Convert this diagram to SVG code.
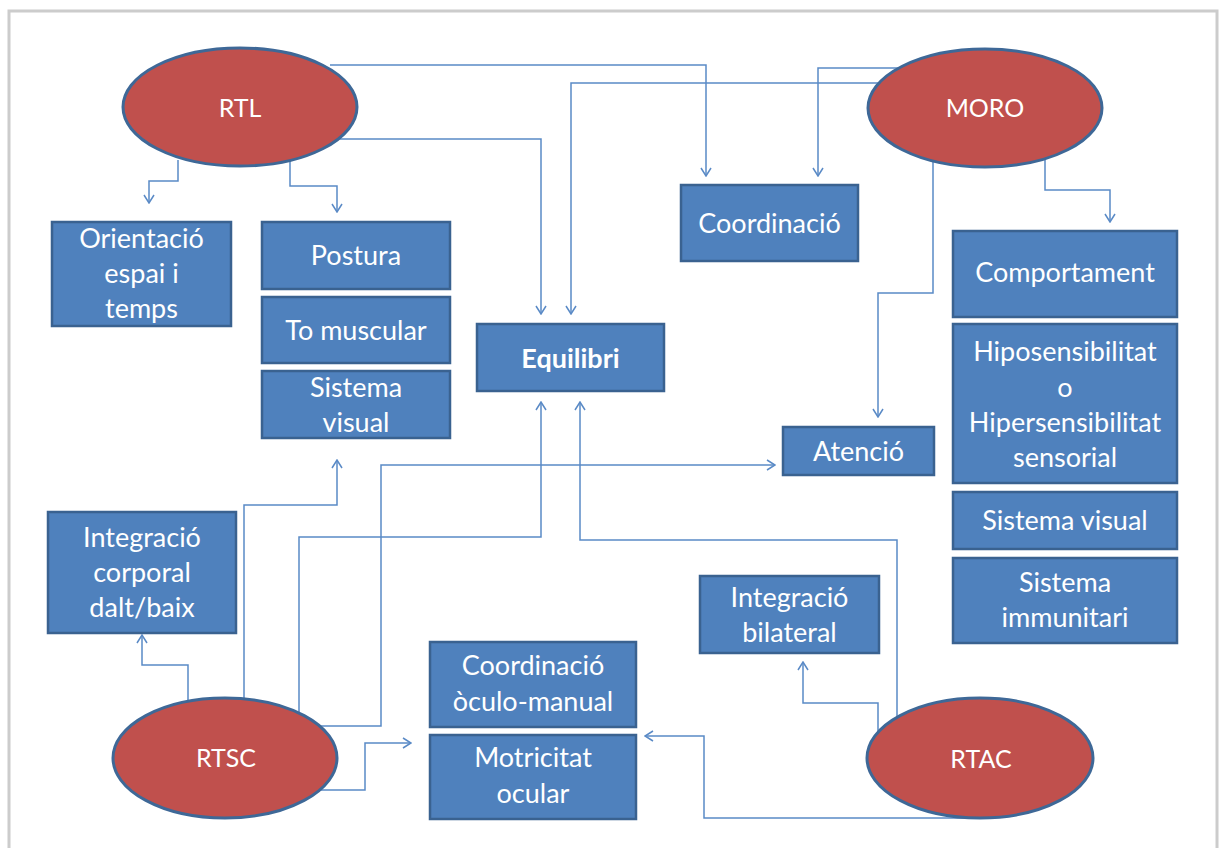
<svg xmlns="http://www.w3.org/2000/svg" width="1224" height="848" viewBox="0 0 1224 848">
  <defs>
    <style>
      .box { fill: #4F81BD; stroke: #3A6290; stroke-width: 2.5; }
      .oval { fill: #C0504D; stroke: #3E6897; stroke-width: 3; }
      .lbl { font-family: Lato, "Noto Sans", sans-serif; font-size: 27px; fill: #FFFFFF; text-anchor: middle; }
      .olbl { font-family: Lato, "Noto Sans", sans-serif; font-size: 25px; fill: #FFFFFF; text-anchor: middle; }
      .bold { font-weight: bold; }
      .wire { fill: none; stroke: #5A8AC6; stroke-width: 1.5; marker-end: url(#arrow); }
    </style>
    <marker id="arrow" viewBox="0 0 10 12" refX="9" refY="6" markerWidth="10" markerHeight="12" markerUnits="userSpaceOnUse" orient="auto">
      <path d="M1,1 L9,6 L1,11" fill="none" stroke="#5A8AC6" stroke-width="1.5"/>
    </marker>
  </defs>

  <rect x="0" y="0" width="1224" height="848" fill="#FFFFFF"/>
  <!-- page frame -->
  <rect x="9" y="11" width="1208" height="860" fill="none" stroke="#CCCCCC" stroke-width="3"/>

  <g id="connectors">
    <path class="wire" d="M178,160 V181 H149 V203"/>
    <path class="wire" d="M290,160 V186 H337 V212"/>
    <path class="wire" d="M330,65 H706 V176"/>
    <path class="wire" d="M905,68 H818 V176"/>
    <path class="wire" d="M885,83 H571 V314"/>
    <path class="wire" d="M330,139 H541 V314"/>
    <path class="wire" d="M1045,160 V190 H1110 V222"/>
    <path class="wire" d="M933,160 V293 H878 V417"/>
    <path class="wire" d="M244,705 V505 H337 V460"/>
    <path class="wire" d="M315,726 H381 V465 H775"/>
    <path class="wire" d="M299,720 V537 H541 V402"/>
    <path class="wire" d="M897,725 V540 H580 V402"/>
    <path class="wire" d="M878,740 V703 H803 V662"/>
    <path class="wire" d="M980,818 H704 V736 H645"/>
    <path class="wire" d="M315,790 H365 V743 H411"/>
    <path class="wire" d="M188,705 V665 H142 V635"/>
  </g>

  <g id="rtl">
    <ellipse class="oval" cx="240" cy="107" rx="117" ry="59"/>
    <text class="olbl" x="240" y="117">RTL</text>
  </g>
  <g id="moro">
    <ellipse class="oval" cx="985" cy="108" rx="117" ry="59"/>
    <text class="olbl" x="985" y="117">MORO</text>
  </g>
  <g id="rtsc">
    <ellipse class="oval" cx="225" cy="758" rx="112" ry="60"/>
    <text class="olbl" x="226" y="767">RTSC</text>
  </g>
  <g id="rtac">
    <ellipse class="oval" cx="980" cy="758" rx="113" ry="60"/>
    <text class="olbl" x="981" y="768">RTAC</text>
  </g>

  <g id="orientacio">
    <rect class="box" x="52" y="222" width="179" height="104"/>
    <text class="lbl" x="141.5" y="248">Orientació</text>
    <text class="lbl" x="141.5" y="283">espai i</text>
    <text class="lbl" x="141.5" y="318">temps</text>
  </g>
  <g id="postura">
    <rect class="box" x="262" y="222" width="188" height="67"/>
    <text class="lbl" x="356" y="265">Postura</text>
  </g>
  <g id="to-muscular">
    <rect class="box" x="262" y="297" width="188" height="66"/>
    <text class="lbl" x="356" y="340">To muscular</text>
  </g>
  <g id="sistema-visual-1">
    <rect class="box" x="262" y="371" width="188" height="67"/>
    <text class="lbl" x="356" y="397">Sistema</text>
    <text class="lbl" x="356" y="432">visual</text>
  </g>
  <g id="coordinacio">
    <rect class="box" x="681" y="185" width="177" height="76"/>
    <text class="lbl" x="769.5" y="233">Coordinació</text>
  </g>
  <g id="equilibri">
    <rect class="box" x="477" y="324" width="187" height="67"/>
    <text class="lbl bold" x="570.5" y="368">Equilibri</text>
  </g>
  <g id="atencio">
    <rect class="box" x="783" y="427" width="151" height="48"/>
    <text class="lbl" x="858.5" y="461">Atenció</text>
  </g>
  <g id="comportament">
    <rect class="box" x="953" y="231" width="224" height="86"/>
    <text class="lbl" x="1065" y="282">Comportament</text>
  </g>
  <g id="sensibilitat">
    <rect class="box" x="953" y="324" width="224" height="159"/>
    <text class="lbl" x="1065" y="361">Hiposensibilitat</text>
    <text class="lbl" x="1065" y="397">o</text>
    <text class="lbl" x="1065" y="432">Hipersensibilitat</text>
    <text class="lbl" x="1065" y="467">sensorial</text>
  </g>
  <g id="sistema-visual-2">
    <rect class="box" x="953" y="492" width="224" height="57"/>
    <text class="lbl" x="1065" y="530">Sistema visual</text>
  </g>
  <g id="sistema-immunitari">
    <rect class="box" x="953" y="558" width="224" height="85"/>
    <text class="lbl" x="1065" y="592">Sistema</text>
    <text class="lbl" x="1065" y="627">immunitari</text>
  </g>
  <g id="integracio-corporal">
    <rect class="box" x="48" y="512" width="188" height="121"/>
    <text class="lbl" x="142" y="547">Integració</text>
    <text class="lbl" x="142" y="582">corporal</text>
    <text class="lbl" x="142" y="617">dalt/baix</text>
  </g>
  <g id="integracio-bilateral">
    <rect class="box" x="700" y="576" width="179" height="77"/>
    <text class="lbl" x="789.5" y="607">Integració</text>
    <text class="lbl" x="789.5" y="642">bilateral</text>
  </g>
  <g id="coordinacio-oculo-manual">
    <rect class="box" x="430" y="642" width="206" height="85"/>
    <text class="lbl" x="533" y="675">Coordinació</text>
    <text class="lbl" x="533" y="711">òculo-manual</text>
  </g>
  <g id="motricitat-ocular">
    <rect class="box" x="430" y="735" width="206" height="84"/>
    <text class="lbl" x="533" y="767">Motricitat</text>
    <text class="lbl" x="533" y="803">ocular</text>
  </g>
</svg>
